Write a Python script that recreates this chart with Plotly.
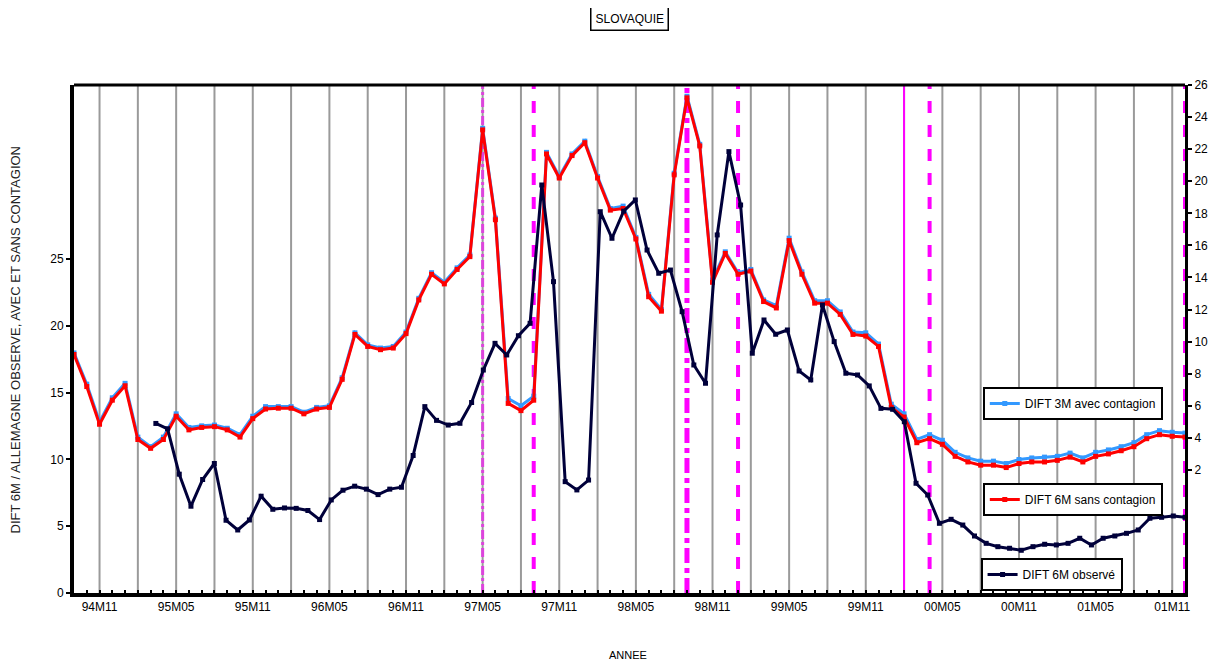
import plotly.graph_objects as go

def month_labels(start, end):
    (y, m), out = start, []
    while (y, m) <= end:
        out.append(f"{y % 100:02d}M{m:02d}")
        m += 1
        if m > 12:
            y, m = y + 1, 1
    return out

# ---- categories ----
months = month_labels((1994, 9), (2001, 12))        # contagion series axis (88)
obs_months = month_labels((1994, 8), (2001, 12))    # observed series axis (89)
tick_labels = ["94M11", "95M05", "95M11", "96M05", "96M11", "97M05", "97M11",
               "98M05", "98M11", "99M05", "99M11", "00M05", "00M11", "01M05", "01M11"]

# ---- series values ----
dift3m_avec = [9.3, 7.35, 5.0, 6.5, 7.4, 4.05, 3.45, 4.05, 5.5, 4.65, 4.75, 4.8, 4.6, 4.2,
               5.35, 5.95, 5.95, 5.95, 5.6, 5.9, 6.0, 7.75, 10.55, 9.8, 9.6, 9.7, 10.6, 12.7,
               14.3, 13.7, 14.6, 15.4, 23.3, 17.7, 6.45, 6.0, 6.6, 21.8, 20.3, 21.7, 22.5, 20.3,
               18.3, 18.45, 16.5, 12.95, 12.0, 20.5, 25.3, 22.3, 13.85, 15.6, 14.3, 14.5, 12.6,
               12.25, 16.45, 14.35, 12.55, 12.55, 11.85, 10.6, 10.55, 9.85, 6.1, 5.5, 3.9, 4.2,
               3.85, 3.1, 2.75, 2.55, 2.55, 2.4, 2.65, 2.75, 2.8, 2.85, 3.05, 2.75, 3.1, 3.25,
               3.45, 3.7, 4.2, 4.45, 4.35, 4.3]
dift6m_sans = [9.2, 7.2, 4.85, 6.35, 7.25, 3.9, 3.35, 3.9, 5.35, 4.5, 4.65, 4.7, 4.5, 4.05,
               5.2, 5.8, 5.85, 5.85, 5.5, 5.8, 5.9, 7.65, 10.45, 9.7, 9.5, 9.6, 10.5, 12.6,
               14.2, 13.6, 14.5, 15.3, 23.2, 17.6, 6.15, 5.7, 6.35, 21.7, 20.2, 21.6, 22.4, 20.2,
               18.2, 18.3, 16.4, 12.8, 11.9, 20.4, 25.2, 22.2, 13.7, 15.5, 14.2, 14.4, 12.5,
               12.1, 16.3, 14.2, 12.4, 12.4, 11.7, 10.45, 10.35, 9.7, 5.9, 5.3, 3.7, 3.95,
               3.6, 2.85, 2.5, 2.3, 2.3, 2.15, 2.4, 2.5, 2.5, 2.6, 2.8, 2.5, 2.85, 3.0,
               3.2, 3.45, 3.95, 4.2, 4.1, 4.05]
dift6m_obs = [12.7, 12.3, 8.9, 6.5, 8.5, 9.7, 5.45, 4.72, 5.47, 7.25, 6.27, 6.37, 6.34, 6.18,
              5.5, 6.97, 7.7, 8.0, 7.78, 7.37, 7.78, 7.92, 10.3, 13.96, 12.93, 12.58, 12.71,
              14.27, 16.7, 18.7, 17.83, 19.27, 20.2, 30.56, 23.32, 8.34, 7.72, 8.46, 28.56,
              26.57, 28.6, 29.44, 25.69, 23.95, 24.19, 21.07, 17.08, 15.71, 26.82, 33.06,
              29.06, 17.96, 20.45, 19.38, 19.7, 16.63, 15.96, 21.57, 18.83, 16.46, 16.33,
              15.51, 13.83, 13.76, 12.83, 8.22, 7.34, 5.22, 5.52, 5.09, 4.27, 3.72, 3.47,
              3.35, 3.2, 3.47, 3.65, 3.6, 3.72, 4.1, 3.6, 4.1, 4.27, 4.47, 4.72, 5.6, 5.67,
              5.77, 5.67]

# ---- event markers (vertical magenta lines) ----
event_months = ["97M05", "97M09", "98M09", "99M01", "00M02", "00M04", "01M12"]
event_style = [("#DD44DD", 3, "dashdot"), ("#FF00FF", 4, "dash"), ("#FF00FF", 5, "dashdot"),
               ("#FF00FF", 4, "dash"), ("#FF00FF", 2, "solid"), ("#FF00FF", 4, "dash"),
               ("#FF00FF", 4, "dash")]

FONT = "Liberation Sans, Arial, sans-serif"

fig = go.Figure()
fig.add_trace(go.Scatter(x=months, y=dift3m_avec, name="DIFT 3M avec contagion",
                         xaxis="x", yaxis="y", mode="lines+markers", showlegend=True,
                         line=dict(color="#3399FF", width=3),
                         marker=dict(symbol="square", size=5, color="#3399FF"),
                         legend="legend"))
fig.add_trace(go.Scatter(x=months, y=dift6m_sans, name="DIFT 6M sans contagion",
                         xaxis="x", yaxis="y", mode="lines+markers", showlegend=True,
                         line=dict(color="#FF0000", width=3),
                         marker=dict(symbol="square", size=5, color="#FF0000"),
                         legend="legend2"))
fig.add_trace(go.Scatter(x=obs_months, y=dift6m_obs, name="DIFT 6M observé",
                         xaxis="x2", yaxis="y2", mode="lines+markers", showlegend=True,
                         line=dict(color="#00003A", width=3),
                         marker=dict(symbol="square", size=5, color="#00003A"),
                         legend="legend3"))

shapes = []
for m in months[2::3]:
    shapes.append(dict(type="line", xref="x", yref="paper", x0=m, x1=m, y0=0, y1=1,
                       line=dict(color="#9A9A9A", width=2), layer="below"))
for m, (c, w, d) in zip(event_months, event_style):
    shapes.append(dict(type="line", xref="x", yref="paper", x0=m, x1=m, y0=0, y1=1,
                       line=dict(color=c, width=w, dash=d), layer="below"))
shapes.append(dict(type="line", xref="paper", yref="paper", x0=0, x1=1, y0=1, y1=1,
                   line=dict(color="black", width=3)))

legend_common = dict(xanchor="left", yanchor="top", bgcolor="white", bordercolor="black",
                     borderwidth=2, font=dict(family=FONT, size=12, color="black"),
                     itemclick=False, visible=True)

# page body adds an 8px offset, so the figure is drawn 8px smaller than the window
fig.update_layout(
    width=1209, height=656,
    showlegend=True,
    margin=dict(l=66, r=32, t=77, b=71, autoexpand=False),
    plot_bgcolor="white", paper_bgcolor="white",
    font=dict(family=FONT, size=12, color="black"),
    xaxis=dict(type="category", categoryorder="array", categoryarray=months,
               range=[0, len(months) - 1], tickmode="array", tickvals=months,
               ticktext=[m if m in tick_labels else "" for m in months],
               ticks="inside", ticklen=3, tickwidth=2, tickcolor="black", tickangle=0,
               showline=True, linewidth=4, linecolor="black", showgrid=False,
               zeroline=False, tickfont=dict(size=12)),
    xaxis2=dict(type="category", categoryorder="array", categoryarray=obs_months,
                range=[-7, len(obs_months) - 1], overlaying="x", visible=False,
                anchor="y2"),
    yaxis=dict(range=[-5.67, 26], tickvals=list(range(2, 27, 2)), side="right",
               anchor="x", ticks="outside", ticklen=4, tickwidth=2, tickcolor="black",
               showline=True, linewidth=3, linecolor="black", showgrid=False,
               zeroline=False, tickfont=dict(size=12)),
    yaxis2=dict(range=[0, 38.05], tickvals=[0, 5, 10, 15, 20, 25], overlaying="y",
                side="left", anchor="x", ticks="outside", ticklen=4, tickwidth=2,
                tickcolor="black", showline=True, linewidth=4, linecolor="black",
                showgrid=False, zeroline=False, tickfont=dict(size=12)),
    legend=dict(x=0.818, y=0.4055, **legend_common),
    legend2=dict(x=0.818, y=0.2165, **legend_common),
    legend3=dict(x=0.816, y=0.069, **legend_common),
    shapes=shapes,
    annotations=[
        dict(text="SLOVAQUIE", xref="paper", yref="paper", x=0.5, y=1.13,
             xanchor="center", yanchor="middle",
             showarrow=False, font=dict(size=12), bordercolor="black", borderwidth=1.5,
             borderpad=4, bgcolor="white"),
        dict(text="ANNEE", xref="paper", yref="paper", x=0.499, y=-0.122,
             xanchor="center", yanchor="middle", showarrow=False, font=dict(size=11)),
        dict(text="DIFT 6M / ALLEMAGNE OBSERVE, AVEC ET SANS CONTAGION", xref="paper",
             yref="paper", x=-0.0527, y=0.498, textangle=-90, showarrow=False,
             xanchor="center", yanchor="middle",
             font=dict(size=13, color="#222222")),
    ],
)

fig.write_html("out.html")
